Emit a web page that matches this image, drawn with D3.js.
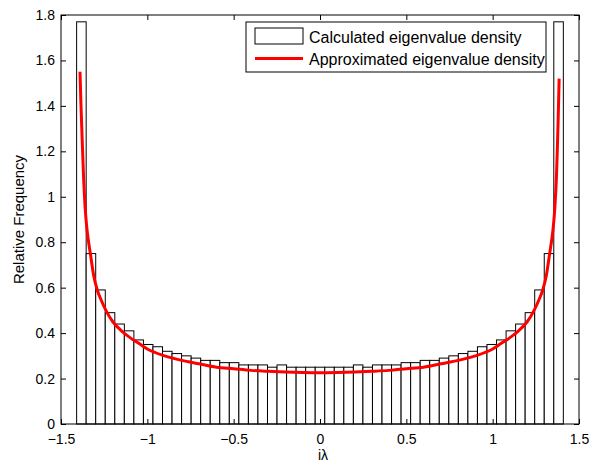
<!DOCTYPE html>
<html>
<head>
<meta charset="utf-8">
<script src="https://cdn.jsdelivr.net/npm/d3@7"></script>
<style>
  body { margin: 0; background: #fff; }
  text { font-family: "Liberation Sans", Arial, sans-serif; }
</style>
</head>
<body>
<script>
// histogram: 51 bins from binStart, each binWidth wide
var binStart = -1.4095;
var binWidth = 0.05527;
var binHeights = [1.77, 0.75, 0.59, 0.49, 0.44, 0.41, 0.37, 0.35, 0.34, 0.32,
    0.31, 0.30, 0.29, 0.28, 0.28, 0.27, 0.27, 0.26, 0.26, 0.26,
    0.25, 0.26, 0.25, 0.25, 0.25, 0.25, 0.25, 0.25, 0.25, 0.26,
    0.25, 0.26, 0.26, 0.26, 0.27, 0.27, 0.28, 0.28, 0.29, 0.30,
    0.31, 0.32, 0.34, 0.35, 0.37, 0.41, 0.44, 0.49, 0.59, 0.75, 1.77];

// approximated density curve
var curveX = [-1.39, -1.385, -1.38, -1.37, -1.36, -1.35, -1.34, -1.33, -1.31, -1.29,
    -1.27, -1.24, -1.2, -1.15, -1.1, -1.05, -1.0, -0.9, -0.8, -0.7,
    -0.6, -0.5, -0.4, -0.3, -0.2, -0.1, 0,
    0.1, 0.2, 0.3, 0.4, 0.5, 0.6, 0.7, 0.8, 0.9, 1.0,
    1.05, 1.1, 1.15, 1.2, 1.24, 1.27, 1.29, 1.31, 1.33, 1.34,
    1.35, 1.36, 1.37, 1.375, 1.38, 1.385];
var curveY = [1.55, 1.42, 1.31, 1.10, 0.95, 0.86, 0.80, 0.75, 0.65, 0.59,
    0.55, 0.50, 0.45, 0.41, 0.38, 0.355, 0.33, 0.30, 0.28, 0.265,
    0.25, 0.243, 0.236, 0.232, 0.229, 0.227, 0.226,
    0.227, 0.229, 0.232, 0.236, 0.243, 0.25, 0.265, 0.28, 0.30, 0.33,
    0.355, 0.38, 0.41, 0.45, 0.50, 0.55, 0.59, 0.65, 0.75, 0.80,
    0.86, 0.95, 1.10, 1.22, 1.36, 1.52];

var xTicks = [-1.5, -1, -0.5, 0, 0.5, 1, 1.5];
var yTicks = [0, 0.2, 0.4, 0.6, 0.8, 1, 1.2, 1.4, 1.6, 1.8];
var legendLabels = ["Calculated eigenvalue density", "Approximated eigenvalue density"];

var svgWidth = 592;
var svgHeight = 462;
var plotLeft = 61, plotRight = 579, plotTop = 15, plotBottom = 424;

var svg = d3.select("body").append("svg")
    .attr("width", svgWidth)
    .attr("height", svgHeight);

var xScale = d3.scaleLinear().domain([-1.5, 1.5]).range([plotLeft, plotRight]);
var yScale = d3.scaleLinear().domain([0, 1.8]).range([plotBottom, plotTop]);

var fmt = function(d) { return String(d).replace("-", "\u2212"); };

//bars
svg.append("g").selectAll("rect")
    .data(binHeights)
    .enter().append("rect")
    .attr("x", function(d, i) { return xScale(binStart + i * binWidth); })
    .attr("y", function(d) { return yScale(d); })
    .attr("width", function(d, i) { return xScale(binStart + (i + 1) * binWidth) - xScale(binStart + i * binWidth); })
    .attr("height", function(d) { return yScale(0) - yScale(d); })
    .attr("fill", "white")
    .attr("stroke", "black")
    .attr("stroke-width", 1);

//curve
var pts = curveX.map(function(x, i) { return [x, curveY[i]]; });
var line = d3.line()
    .x(function(d) { return xScale(d[0]); })
    .y(function(d) { return yScale(d[1]); })
    .curve(d3.curveMonotoneX);
svg.append("path")
    .datum(pts)
    .attr("d", line)
    .attr("fill", "none")
    .attr("stroke", "#ff0000")
    .attr("stroke-width", 3);

//axes (MATLAB style, ticks inward on all sides)
var xAxisB = d3.axisBottom(xScale).tickValues(xTicks).tickSizeInner(-5).tickSizeOuter(0).tickPadding(10).tickFormat(fmt);
var xAxisT = d3.axisTop(xScale).tickValues(xTicks).tickSizeInner(-5).tickSizeOuter(0).tickFormat("");
var yAxisL = d3.axisLeft(yScale).tickValues(yTicks).tickSizeInner(-5).tickSizeOuter(0).tickPadding(6).tickFormat(fmt);
var yAxisR = d3.axisRight(yScale).tickValues(yTicks).tickSizeInner(-5).tickSizeOuter(0).tickFormat("");

svg.append("g").attr("transform", "translate(0," + plotBottom + ")").call(xAxisB);
svg.append("g").attr("transform", "translate(0," + plotTop + ")").call(xAxisT);
svg.append("g").attr("transform", "translate(" + plotLeft + ",0)").call(yAxisL);
svg.append("g").attr("transform", "translate(" + plotRight + ",0)").call(yAxisR);

svg.selectAll(".domain").remove();
svg.selectAll(".tick line").attr("stroke", "black");
svg.selectAll(".tick text").attr("font-size", 14).attr("fill", "black")
    .style("font-family", "'Liberation Sans', Arial, sans-serif");

svg.append("rect")
    .attr("x", plotLeft).attr("y", plotTop)
    .attr("width", plotRight - plotLeft).attr("height", plotBottom - plotTop)
    .attr("fill", "none").attr("stroke", "black").attr("stroke-width", 1);

//axis labels
svg.append("text")
    .attr("x", 323).attr("y", 460)
    .attr("text-anchor", "middle")
    .attr("font-size", 14)
    .text("i\u03bb");
svg.append("text")
    .attr("transform", "translate(24," + ((plotTop + plotBottom) / 2) + ") rotate(-90)")
    .attr("text-anchor", "middle")
    .attr("font-size", 15)
    .text("Relative Frequency");

//legend
var legend = svg.append("g");
legend.append("rect")
    .attr("x", 246).attr("y", 22)
    .attr("width", 300).attr("height", 50)
    .attr("fill", "white").attr("stroke", "black").attr("stroke-width", 1);
legend.append("rect")
    .attr("x", 255).attr("y", 28)
    .attr("width", 48).attr("height", 16)
    .attr("fill", "white").attr("stroke", "black").attr("stroke-width", 1);
legend.append("line")
    .attr("x1", 255).attr("x2", 303)
    .attr("y1", 58.5).attr("y2", 58.5)
    .attr("stroke", "#ff0000").attr("stroke-width", 3);
legend.selectAll("text.lg")
    .data(legendLabels)
    .enter().append("text")
    .attr("class", "lg")
    .attr("x", 309)
    .attr("y", function(d, i) { return 42.5 + i * 22.5; })
    .attr("font-size", 16)
    .text(function(d) { return d; });
</script>
</body>
</html>
